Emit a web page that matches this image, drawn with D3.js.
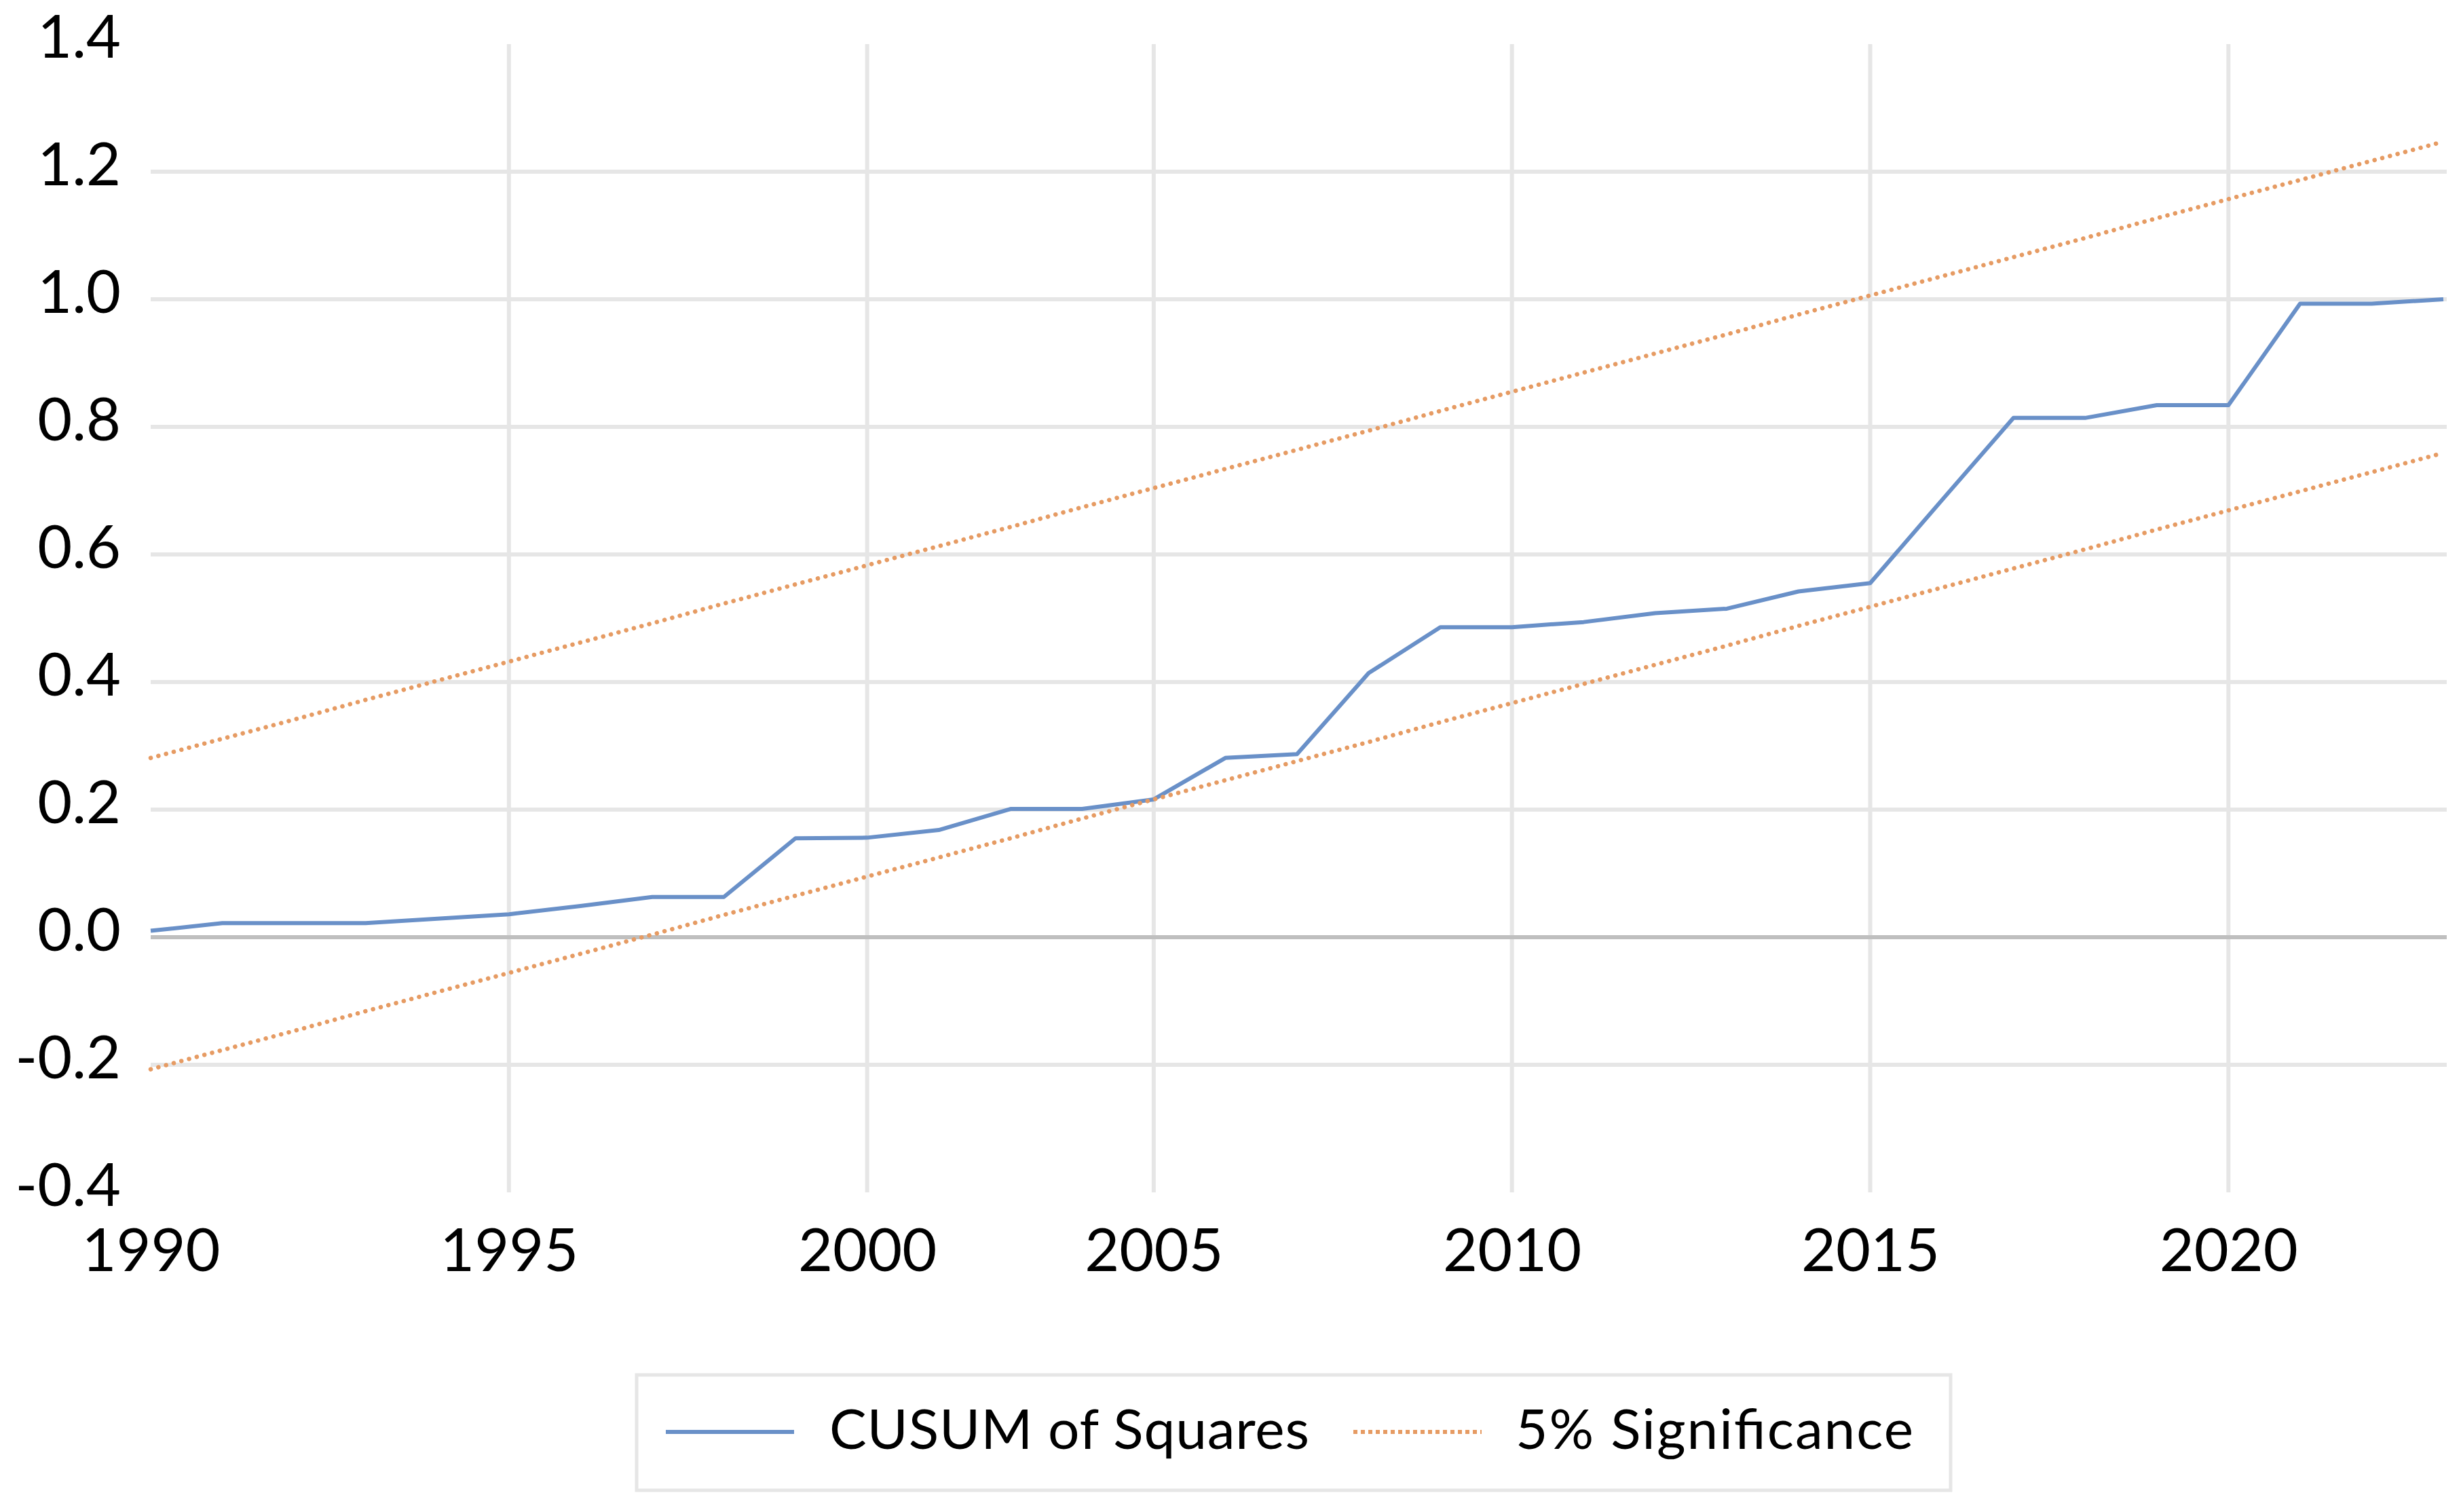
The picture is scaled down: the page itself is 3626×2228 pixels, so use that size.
<!DOCTYPE html>
<html>
<head>
<meta charset="utf-8">
<script src="https://cdn.jsdelivr.net/npm/d3@7"></script>
<style>
body { margin: 0; background: #fff; }
text { font-family: Lato, "Open Sans", sans-serif; fill: #000; }
</style>
</head>
<body>
<svg id="chart"></svg>
<script>
// categories (one year between 2000 and 2005 is absent from the axis)
const years = [1990, 1991, 1992, 1993, 1994, 1995, 1996, 1997, 1998, 1999, 2000, 2001,
    2003, 2004, 2005, 2006, 2007, 2008, 2009, 2010, 2011, 2012, 2013, 2014, 2015, 2016,
    2017, 2018, 2019, 2020, 2021, 2022, 2023];
// CUSUM of squares statistic
const cusumSq = [0.010, 0.022, 0.022, 0.022, 0.029, 0.036, 0.049, 0.063, 0.063, 0.155, 0.156, 0.168,
    0.201, 0.201, 0.216, 0.281, 0.287, 0.414, 0.486, 0.486, 0.494, 0.508, 0.515, 0.542, 0.555, 0.685,
    0.814, 0.814, 0.834, 0.834, 0.993, 0.993, 1.000];
// 5% significance bounds
const upperBound = [0.281, 0.311, 0.341, 0.372, 0.402, 0.432, 0.462, 0.492, 0.523, 0.553, 0.583, 0.613,
    0.643, 0.674, 0.704, 0.734, 0.764, 0.794, 0.825, 0.855, 0.885, 0.915, 0.945, 0.976, 1.006, 1.036,
    1.066, 1.096, 1.127, 1.157, 1.187, 1.217, 1.247];
const lowerBound = [-0.207, -0.177, -0.147, -0.116, -0.086, -0.056, -0.026, 0.004, 0.035, 0.065, 0.095, 0.125,
    0.155, 0.186, 0.216, 0.246, 0.276, 0.306, 0.337, 0.367, 0.397, 0.427, 0.457, 0.488, 0.518, 0.548,
    0.578, 0.608, 0.639, 0.669, 0.699, 0.729, 0.759];
const yTicks = [-0.4, -0.2, 0, 0.2, 0.4, 0.6, 0.8, 1.0, 1.2, 1.4];
const xTickLabels = [1990, 1995, 2000, 2005, 2010, 2015, 2020];
const seriesNames = ["CUSUM of Squares", "5% Significance"];

const width = 3626, height = 2228;
const plot = { left: 222, right: 3605, top: 65, bottom: 1757 };
const blue = "#6990c8", orange = "#e69b63", grid = "#e6e6e6";

const svg = d3.select("#chart").attr("width", width).attr("height", height);

const x = d3.scalePoint().domain(years).range([plot.left, 3600]);
const y = d3.scaleLinear().domain([-0.4, 1.4]).range([plot.bottom, plot.top]);

// gridlines
const g = svg.append("g");
g.selectAll("line.vgrid").data(xTickLabels.slice(1)).join("line").attr("class", "vgrid")
    .attr("x1", d => x(d)).attr("x2", d => x(d))
    .attr("y1", plot.top).attr("y2", plot.bottom)
    .attr("stroke", grid).attr("stroke-width", 6);
g.selectAll("line.hgrid").data(yTicks.filter(v => v > -0.4 && v < 1.4)).join("line").attr("class", "hgrid")
    .attr("x1", plot.left).attr("x2", plot.right)
    .attr("y1", d => y(d)).attr("y2", d => y(d))
    .attr("stroke", d => d === 0 ? "#bfbfbf" : grid).attr("stroke-width", 6);

// axes
const yAxis = d3.axisLeft(y).tickValues(yTicks).tickSize(0).tickPadding(44).tickFormat(d => d.toFixed(1));
svg.append("g").attr("transform", `translate(${plot.left},0)`).call(yAxis)
    .call(a => a.select(".domain").remove())
    .selectAll("text").attr("dy", 19).style("font-size", "88px");

const xAxis = d3.axisBottom(x).tickValues(xTickLabels).tickSize(0);
svg.append("g").attr("transform", `translate(0,${plot.bottom})`).call(xAxis)
    .call(a => a.select(".domain").remove())
    .selectAll("text").attr("y", 116).attr("dy", 0).style("font-size", "88px");

// lines
const line = d3.line().x((d, i) => x(years[i])).y(d => y(d));
svg.append("path").datum(cusumSq).attr("d", line)
    .attr("fill", "none").attr("stroke", blue).attr("stroke-width", 6)
    .attr("stroke-linejoin", "round");
// bounds drawn after the statistic, as in the original
[lowerBound, upperBound].forEach(b => {
    svg.append("path").datum(b).attr("d", line)
        .attr("fill", "none").attr("stroke", orange).attr("stroke-width", 6.5)
        .attr("stroke-linecap", "round").attr("stroke-dasharray", "0.1 11.6");
});

// legend
const lg = svg.append("g");
lg.append("rect").attr("x", 938).attr("y", 2026).attr("width", 1936).attr("height", 170)
    .attr("fill", "none").attr("stroke", grid).attr("stroke-width", 5);
const items = [
    { name: seriesNames[0], color: blue, x0: 981, tx: 1222, len: 707, dash: null },
    { name: seriesNames[1], color: orange, x0: 1994, tx: 2233, len: 586, dash: "6 5" }
];
items.forEach(it => {
    lg.append("line").attr("x1", it.x0).attr("x2", it.x0 + 189).attr("y1", 2110).attr("y2", 2110)
        .attr("stroke", it.color).attr("stroke-width", 6).attr("stroke-dasharray", it.dash);
    lg.append("text").attr("x", it.tx).attr("y", 2135).style("font-size", "82px")
        .attr("textLength", it.len).attr("lengthAdjust", "spacing").text(it.name);
});
</script>
</body>
</html>
